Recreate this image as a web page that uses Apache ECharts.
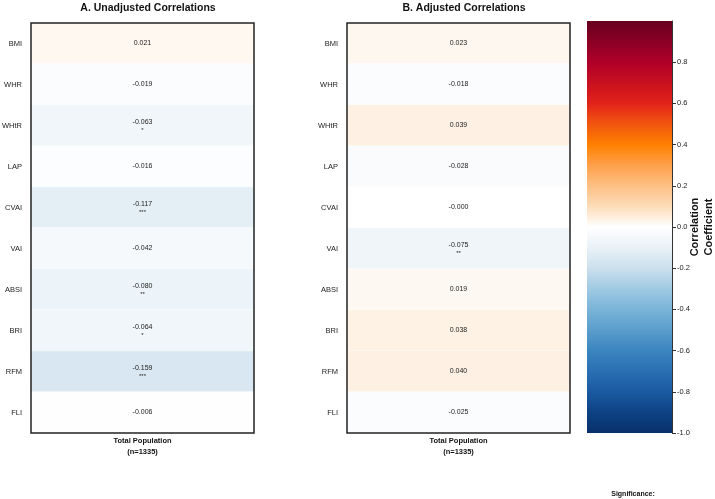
<!DOCTYPE html>
<html>
<head>
<meta charset="utf-8">
<script src="https://cdn.jsdelivr.net/npm/echarts@6/dist/echarts.min.js"></script>
<style>
  html, body { margin: 0; padding: 0; background: #fff; }
  #chart { width: 715px; height: 499px; }
</style>
</head>
<body>
<div id="chart"></div>
<script>
// rows of both heatmaps, top to bottom
const measures = ['BMI', 'WHR', 'WHtR', 'LAP', 'CVAI', 'VAI', 'ABSI', 'BRI', 'RFM', 'FLI']
const columnLabel = 'Total Population\n(n=1335)'

const unadjusted = [0.021, -0.019, -0.063, -0.016, -0.117, -0.042, -0.080, -0.064, -0.159, -0.006]
const unadjustedSig = ['', '', '*', '', '***', '', '**', '*', '***', '']

const adjusted = [0.023, -0.018, 0.039, -0.028, -0.0004, -0.075, 0.019, 0.038, 0.040, -0.025]
const adjustedSig = ['', '', '', '', '', '**', '', '', '', '']

// colormap stops at -1.0, -0.9, ... 1.0
const cmap = [
  '#08306b', '#0d4284', '#1a5aa0', '#2a6fb2', '#3a85bf', '#5a9dcc', '#7ab4d8', '#a0c9e3', '#cce0ed', '#e9f1f7',
  '#ffffff',
  '#fcdcb8', '#fdc084', '#fea04a', '#ff8000', '#f25510', '#e2231a', '#c8101f', '#b0002a', '#8a0025', '#67001f'
]

const font = 'Liberation Sans, Arial, sans-serif'
const chart = echarts.init(document.getElementById('chart'), null, { renderer: 'canvas' })

function heatmapSeries(idx, values, sig) {
  return {
    type: 'heatmap',
    xAxisIndex: idx,
    yAxisIndex: idx,
    data: values.map((v, i) => [0, i, v]),
    itemStyle: { borderColor: '#fff', borderWidth: 0.5 },
    label: {
      show: true,
      fontFamily: font,
      formatter: p => {
        const s = sig[p.dataIndex]
        const txt = p.value[2].toFixed(3)
        return s ? `{v|${txt}}\n{s|${s}}` : `{v|${txt}}`
      },
      rich: {
        v: { fontSize: 7, color: '#222', fontFamily: font, lineHeight: 9 },
        s: { fontSize: 6, color: '#222', fontFamily: font, lineHeight: 6 }
      }
    },
    emphasis: { disabled: true }
  }
}

function catX(idx) {
  return {
    type: 'category',
    gridIndex: idx,
    data: [columnLabel],
    position: 'bottom',
    axisLine: { show: false },
    axisTick: { show: false },
    axisLabel: {
      margin: 2, fontSize: 7.5, fontWeight: 'bold', color: '#111',
      fontFamily: font, lineHeight: 11
    }
  }
}

function catY(idx) {
  return {
    type: 'category',
    gridIndex: idx,
    data: measures,
    inverse: true,
    axisLine: { show: false },
    axisTick: { show: false },
    axisLabel: { margin: 9, fontSize: 7.5, color: '#222', fontFamily: font }
  }
}

const boxGrid = { top: 23, width: 223, height: 410, show: true, z: 5, borderColor: '#222', borderWidth: 1.5, backgroundColor: 'transparent', outerBoundsMode: 'none' }

chart.setOption({
  animation: false,
  backgroundColor: '#fff',
  title: [
    {
      text: 'A. Unadjusted Correlations', left: 143, top: -2, textAlign: 'center',
      textStyle: { fontSize: 10.5, fontWeight: 'bold', color: '#111', fontFamily: font }
    },
    {
      text: 'B. Adjusted Correlations', left: 459, top: -2, textAlign: 'center',
      textStyle: { fontSize: 10.5, fontWeight: 'bold', color: '#111', fontFamily: font }
    },
    {
      text: 'Significance:', left: 628, top: 486, textAlign: 'center',
      textStyle: { fontSize: 7, fontWeight: 'bold', color: '#111', fontFamily: font }
    }
  ],
  grid: [
    Object.assign({ left: 31 }, boxGrid),
    Object.assign({ left: 347 }, boxGrid),
    { left: 587, top: 21, width: 85, height: 412, outerBoundsMode: 'none' }
  ],
  xAxis: [
    catX(0),
    catX(1),
    { type: 'category', gridIndex: 2, data: [''], show: false }
  ],
  yAxis: [
    catY(0),
    catY(1),
    {
      type: 'value',
      gridIndex: 2,
      position: 'right',
      min: -1,
      max: 1,
      interval: 0.2,
      splitLine: { show: false },
      axisLine: { show: true, lineStyle: { color: '#333', width: 1 } },
      axisTick: { show: true, length: 4, lineStyle: { color: '#333' } },
      axisLabel: {
        showMaxLabel: false, margin: 5, fontSize: 7.5, color: '#222', fontFamily: font,
        formatter: v => (Math.abs(v) < 1e-9 ? 0 : v).toFixed(1)
      },
      name: 'Correlation\nCoefficient',
      nameLocation: 'middle',
      nameRotate: 90,
      nameGap: 16,
      nameMoveOverlap: false,
      nameTextStyle: { fontSize: 11, fontWeight: 'bold', color: '#111', fontFamily: font, lineHeight: 14 }
    }
  ],
  visualMap: {
    show: false,
    type: 'continuous',
    seriesIndex: [0, 1],
    dimension: 2,
    min: -1,
    max: 1,
    inRange: { color: cmap }
  },
  series: [
    heatmapSeries(0, unadjusted, unadjustedSig),
    heatmapSeries(1, adjusted, adjustedSig),
    {
      // colour bar
      type: 'custom',
      xAxisIndex: 2,
      yAxisIndex: 2,
      data: [[0, 1]],
      silent: true,
      renderItem: (params, api) => {
        const top = api.coord([0, 1])[1]
        const bottom = api.coord([0, -1])[1]
        const cs = params.coordSys
        const stops = cmap.slice().reverse().map((c, i) => ({ offset: i / (cmap.length - 1), color: c }))
        return {
          type: 'rect',
          shape: { x: cs.x, y: top, width: cs.width, height: bottom - top },
          style: { fill: new echarts.graphic.LinearGradient(0, 0, 0, 1, stops) }
        }
      }
    }
  ]
})
</script>
</body>
</html>
